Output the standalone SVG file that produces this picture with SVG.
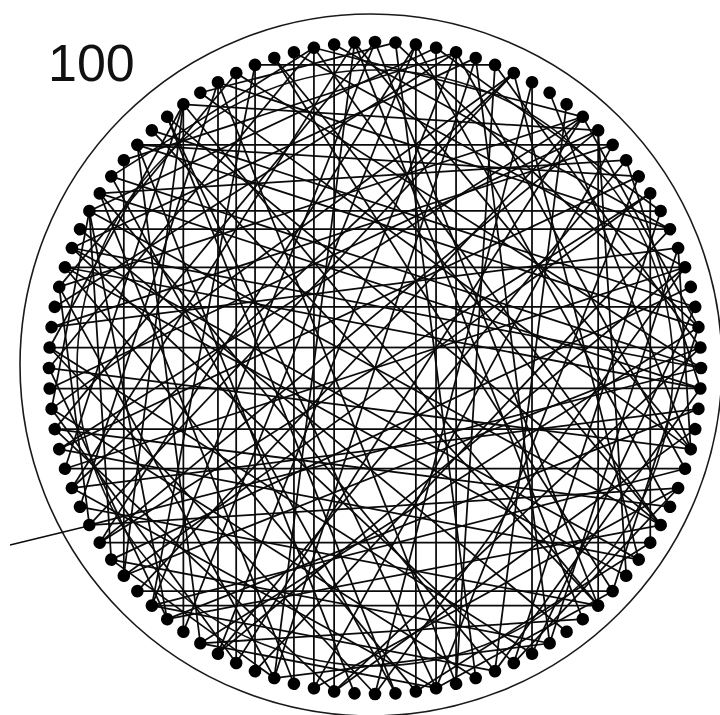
<svg xmlns="http://www.w3.org/2000/svg" xmlns:xlink="http://www.w3.org/1999/xlink" width="720" height="715" viewBox="0 0 720 715">
<style>
.ch{stroke:#0a0a0a;stroke-width:1.75;fill:none}
.ring{fill:none;stroke:#1a1a1a;stroke-width:1.6}
.inner{fill:none;stroke:#111;stroke-width:1.6}
.dot{fill:#000}
.lbl{font-family:"Liberation Sans",Arial,sans-serif;font-size:52px;fill:#111}
</style>
<defs>
<circle id="dot" class="dot" cx="0" cy="-326" r="6.3"/>
<line id="s10" class="ch" x1="0" y1="-326" x2="191.6" y2="-263.7"/>
<line id="s12" class="ch" x1="0" y1="-326" x2="223.1" y2="-237.7"/>
<line id="s14" class="ch" x1="0" y1="-326" x2="251.2" y2="-207.8"/>
<line id="s16" class="ch" x1="0" y1="-326" x2="275.2" y2="-174.7"/>
<line id="s18" class="ch" x1="0" y1="-326" x2="295.0" y2="-138.8"/>
<line id="s20" class="ch" x1="0" y1="-326" x2="310.1" y2="-100.7"/>
<line id="s22" class="ch" x1="0" y1="-326" x2="320.2" y2="-61.1"/>
<line id="s24" class="ch" x1="0" y1="-326" x2="325.4" y2="-20.5"/>
<line id="s26" class="ch" x1="0" y1="-326" x2="325.4" y2="20.5"/>
<line id="s28" class="ch" x1="0" y1="-326" x2="320.2" y2="61.1"/>
<line id="s30" class="ch" x1="0" y1="-326" x2="310.1" y2="100.7"/>
<line id="s32" class="ch" x1="0" y1="-326" x2="295.0" y2="138.8"/>
<line id="s34" class="ch" x1="0" y1="-326" x2="275.2" y2="174.7"/>
<line id="s36" class="ch" x1="0" y1="-326" x2="251.2" y2="207.8"/>
<line id="s38" class="ch" x1="0" y1="-326" x2="223.1" y2="237.7"/>
<line id="s40" class="ch" x1="0" y1="-326" x2="191.6" y2="263.7"/>
<line id="s42" class="ch" x1="0" y1="-326" x2="157.1" y2="285.7"/>
<line id="s44" class="ch" x1="0" y1="-326" x2="120.0" y2="303.1"/>
<line id="s46" class="ch" x1="0" y1="-326" x2="81.1" y2="315.8"/>
<line id="s48" class="ch" x1="0" y1="-326" x2="40.9" y2="323.4"/>
<line id="s50" class="ch" x1="0" y1="-326" x2="0" y2="326"/>
</defs>
<rect width="720" height="715" fill="#fff"/>
<g id="label"><text class="lbl" x="48" y="81">100</text></g>
<g id="housing">
<circle class="ring" cx="371" cy="365" r="351"/>
<circle class="inner" cx="375" cy="368" r="298"/>
</g>
<g id="connectors" transform="translate(375,368)">
<use href="#s38" transform="rotate(0)"/>
<use href="#s22" transform="rotate(3.6)"/>
<use href="#s30" transform="rotate(7.2)"/>
<use href="#s44" transform="rotate(10.8)"/>
<use href="#s26" transform="rotate(14.4)"/>
<use href="#s36" transform="rotate(18)"/>
<use href="#s18" transform="rotate(21.6)"/>
<use href="#s28" transform="rotate(25.2)"/>
<use href="#s42" transform="rotate(28.8)"/>
<use href="#s20" transform="rotate(32.4)"/>
<use href="#s34" transform="rotate(36)"/>
<use href="#s46" transform="rotate(39.6)"/>
<use href="#s24" transform="rotate(43.2)"/>
<use href="#s40" transform="rotate(46.8)"/>
<use href="#s12" transform="rotate(50.4)"/>
<use href="#s32" transform="rotate(54)"/>
<use href="#s48" transform="rotate(57.6)"/>
<use href="#s26" transform="rotate(61.2)"/>
<use href="#s38" transform="rotate(64.8)"/>
<use href="#s22" transform="rotate(68.4)"/>
<use href="#s30" transform="rotate(72)"/>
<use href="#s44" transform="rotate(75.6)"/>
<use href="#s20" transform="rotate(79.2)"/>
<use href="#s36" transform="rotate(82.8)"/>
<use href="#s28" transform="rotate(86.4)"/>
<use href="#s42" transform="rotate(90)"/>
<use href="#s18" transform="rotate(93.6)"/>
<use href="#s34" transform="rotate(97.2)"/>
<use href="#s24" transform="rotate(100.8)"/>
<use href="#s46" transform="rotate(104.4)"/>
<use href="#s32" transform="rotate(108)"/>
<use href="#s22" transform="rotate(111.6)"/>
<use href="#s40" transform="rotate(115.2)"/>
<use href="#s28" transform="rotate(118.8)"/>
<use href="#s14" transform="rotate(122.4)"/>
<use href="#s36" transform="rotate(126)"/>
<use href="#s44" transform="rotate(129.6)"/>
<use href="#s26" transform="rotate(133.2)"/>
<use href="#s30" transform="rotate(136.8)"/>
<use href="#s20" transform="rotate(140.4)"/>
<use href="#s42" transform="rotate(144)"/>
<use href="#s24" transform="rotate(147.6)"/>
<use href="#s34" transform="rotate(151.2)"/>
<use href="#s38" transform="rotate(154.8)"/>
<use href="#s18" transform="rotate(158.4)"/>
<use href="#s28" transform="rotate(162)"/>
<use href="#s46" transform="rotate(165.6)"/>
<use href="#s22" transform="rotate(169.2)"/>
<use href="#s32" transform="rotate(172.8)"/>
<use href="#s40" transform="rotate(176.4)"/>
<use href="#s26" transform="rotate(180)"/>
<use href="#s36" transform="rotate(183.6)"/>
<use href="#s20" transform="rotate(187.2)"/>
<use href="#s44" transform="rotate(190.8)"/>
<use href="#s30" transform="rotate(194.4)"/>
<use href="#s24" transform="rotate(198)"/>
<use href="#s38" transform="rotate(201.6)"/>
<use href="#s16" transform="rotate(205.2)"/>
<use href="#s34" transform="rotate(208.8)"/>
<use href="#s28" transform="rotate(212.4)"/>
<use href="#s42" transform="rotate(216)"/>
<use href="#s22" transform="rotate(219.6)"/>
<use href="#s32" transform="rotate(223.2)"/>
<use href="#s48" transform="rotate(226.8)"/>
<use href="#s26" transform="rotate(230.4)"/>
<use href="#s18" transform="rotate(234)"/>
<use href="#s36" transform="rotate(237.6)"/>
<use href="#s40" transform="rotate(241.2)"/>
<use href="#s24" transform="rotate(244.8)"/>
<use href="#s30" transform="rotate(248.4)"/>
<use href="#s20" transform="rotate(252)"/>
<use href="#s44" transform="rotate(255.6)"/>
<use href="#s28" transform="rotate(259.2)"/>
<use href="#s34" transform="rotate(262.8)"/>
<use href="#s38" transform="rotate(266.4)"/>
<use href="#s22" transform="rotate(270)"/>
<use href="#s14" transform="rotate(273.6)"/>
<use href="#s42" transform="rotate(277.2)"/>
<use href="#s26" transform="rotate(280.8)"/>
<use href="#s32" transform="rotate(284.4)"/>
<use href="#s46" transform="rotate(288)"/>
<use href="#s24" transform="rotate(291.6)"/>
<use href="#s36" transform="rotate(295.2)"/>
<use href="#s20" transform="rotate(298.8)"/>
<use href="#s30" transform="rotate(302.4)"/>
<use href="#s40" transform="rotate(306)"/>
<use href="#s18" transform="rotate(309.6)"/>
<use href="#s28" transform="rotate(313.2)"/>
<use href="#s34" transform="rotate(316.8)"/>
<use href="#s44" transform="rotate(320.4)"/>
<use href="#s22" transform="rotate(324)"/>
<use href="#s38" transform="rotate(327.6)"/>
<use href="#s26" transform="rotate(331.2)"/>
<use href="#s32" transform="rotate(334.8)"/>
<use href="#s12" transform="rotate(338.4)"/>
<use href="#s42" transform="rotate(342)"/>
<use href="#s24" transform="rotate(345.6)"/>
<use href="#s36" transform="rotate(349.2)"/>
<use href="#s20" transform="rotate(352.8)"/>
<use href="#s30" transform="rotate(356.4)"/>
<use href="#s42" transform="rotate(194.4)"/>
<use href="#s36" transform="rotate(205.2)"/>
<use href="#s30" transform="rotate(216)"/>
<use href="#s22" transform="rotate(230.4)"/>
<use href="#s42" transform="rotate(14.4)"/>
<use href="#s34" transform="rotate(28.8)"/>
<use href="#s26" transform="rotate(43.2)"/>
<use href="#s18" transform="rotate(57.6)"/>
<use href="#s46" transform="rotate(187.2)"/>
<use href="#s46" transform="rotate(7.2)"/>
<use href="#s40" transform="rotate(288)"/>
<use href="#s48" transform="rotate(273.6)"/>
<use href="#s44" transform="rotate(280.8)"/>
<use href="#s34" transform="rotate(298.8)"/>
<use href="#s26" transform="rotate(313.2)"/>
<use href="#s40" transform="rotate(108)"/>
<use href="#s44" transform="rotate(100.8)"/>
<use href="#s32" transform="rotate(122.4)"/>
<use href="#s24" transform="rotate(136.8)"/>
<use href="#s48" transform="rotate(93.6)"/>
<use href="#s14" transform="rotate(10.8)"/>
<use href="#s12" transform="rotate(39.6)"/>
<use href="#s10" transform="rotate(68.4)"/>
<use href="#s14" transform="rotate(82.8)"/>
<use href="#s12" transform="rotate(111.6)"/>
<use href="#s10" transform="rotate(133.2)"/>
<use href="#s14" transform="rotate(147.6)"/>
<use href="#s12" transform="rotate(169.2)"/>
<use href="#s10" transform="rotate(198)"/>
<use href="#s14" transform="rotate(219.6)"/>
<use href="#s12" transform="rotate(241.2)"/>
<use href="#s10" transform="rotate(262.8)"/>
<use href="#s14" transform="rotate(284.4)"/>
<use href="#s12" transform="rotate(306)"/>
<use href="#s10" transform="rotate(327.6)"/>
<use href="#s14" transform="rotate(349.2)"/>
<use href="#s50" transform="rotate(18)"/>
<use href="#s50" transform="rotate(118.8)"/>
<use href="#s50" transform="rotate(252)"/>
<use href="#s50" transform="rotate(316.8)"/>
<use href="#s40" transform="rotate(21.6)"/>
<use href="#s44" transform="rotate(50.4)"/>
<use href="#s38" transform="rotate(72)"/>
<use href="#s42" transform="rotate(97.2)"/>
<use href="#s46" transform="rotate(126)"/>
<use href="#s40" transform="rotate(158.4)"/>
<use href="#s36" transform="rotate(176.4)"/>
<use href="#s44" transform="rotate(198)"/>
<use href="#s38" transform="rotate(223.2)"/>
<use href="#s46" transform="rotate(237.6)"/>
<use href="#s40" transform="rotate(255.6)"/>
<use href="#s36" transform="rotate(277.2)"/>
<use href="#s42" transform="rotate(302.4)"/>
<use href="#s48" transform="rotate(324)"/>
<use href="#s38" transform="rotate(342)"/>
<use href="#s44" transform="rotate(3.6)"/>
<use href="#s40" transform="rotate(86.4)"/>
<use href="#s36" transform="rotate(111.6)"/>
<use href="#s42" transform="rotate(169.2)"/>
<use href="#s46" transform="rotate(208.8)"/>
<use href="#s38" transform="rotate(248.4)"/>
<use href="#s44" transform="rotate(291.6)"/>
<use href="#s36" transform="rotate(313.2)"/>
<use href="#s40" transform="rotate(356.4)"/>
<use href="#s50" transform="rotate(57.6)"/>
</g>
<g id="leader"><line class="ch" x1="10" y1="545" x2="84" y2="527" style="stroke-width:1.3"/></g>
<g id="nodes" transform="translate(375,368)">
<g id="n0"><use href="#dot" transform="rotate(0)"/></g>
<g id="n1"><use href="#dot" transform="rotate(3.6)"/></g>
<g id="n2"><use href="#dot" transform="rotate(7.2)"/></g>
<g id="n3"><use href="#dot" transform="rotate(10.8)"/></g>
<g id="n4"><use href="#dot" transform="rotate(14.4)"/></g>
<g id="n5"><use href="#dot" transform="rotate(18)"/></g>
<g id="n6"><use href="#dot" transform="rotate(21.6)"/></g>
<g id="n7"><use href="#dot" transform="rotate(25.2)"/></g>
<g id="n8"><use href="#dot" transform="rotate(28.8)"/></g>
<g id="n9"><use href="#dot" transform="rotate(32.4)"/></g>
<g id="n10"><use href="#dot" transform="rotate(36)"/></g>
<g id="n11"><use href="#dot" transform="rotate(39.6)"/></g>
<g id="n12"><use href="#dot" transform="rotate(43.2)"/></g>
<g id="n13"><use href="#dot" transform="rotate(46.8)"/></g>
<g id="n14"><use href="#dot" transform="rotate(50.4)"/></g>
<g id="n15"><use href="#dot" transform="rotate(54)"/></g>
<g id="n16"><use href="#dot" transform="rotate(57.6)"/></g>
<g id="n17"><use href="#dot" transform="rotate(61.2)"/></g>
<g id="n18"><use href="#dot" transform="rotate(64.8)"/></g>
<g id="n19"><use href="#dot" transform="rotate(68.4)"/></g>
<g id="n20"><use href="#dot" transform="rotate(72)"/></g>
<g id="n21"><use href="#dot" transform="rotate(75.6)"/></g>
<g id="n22"><use href="#dot" transform="rotate(79.2)"/></g>
<g id="n23"><use href="#dot" transform="rotate(82.8)"/></g>
<g id="n24"><use href="#dot" transform="rotate(86.4)"/></g>
<g id="n25"><use href="#dot" transform="rotate(90)"/></g>
<g id="n26"><use href="#dot" transform="rotate(93.6)"/></g>
<g id="n27"><use href="#dot" transform="rotate(97.2)"/></g>
<g id="n28"><use href="#dot" transform="rotate(100.8)"/></g>
<g id="n29"><use href="#dot" transform="rotate(104.4)"/></g>
<g id="n30"><use href="#dot" transform="rotate(108)"/></g>
<g id="n31"><use href="#dot" transform="rotate(111.6)"/></g>
<g id="n32"><use href="#dot" transform="rotate(115.2)"/></g>
<g id="n33"><use href="#dot" transform="rotate(118.8)"/></g>
<g id="n34"><use href="#dot" transform="rotate(122.4)"/></g>
<g id="n35"><use href="#dot" transform="rotate(126)"/></g>
<g id="n36"><use href="#dot" transform="rotate(129.6)"/></g>
<g id="n37"><use href="#dot" transform="rotate(133.2)"/></g>
<g id="n38"><use href="#dot" transform="rotate(136.8)"/></g>
<g id="n39"><use href="#dot" transform="rotate(140.4)"/></g>
<g id="n40"><use href="#dot" transform="rotate(144)"/></g>
<g id="n41"><use href="#dot" transform="rotate(147.6)"/></g>
<g id="n42"><use href="#dot" transform="rotate(151.2)"/></g>
<g id="n43"><use href="#dot" transform="rotate(154.8)"/></g>
<g id="n44"><use href="#dot" transform="rotate(158.4)"/></g>
<g id="n45"><use href="#dot" transform="rotate(162)"/></g>
<g id="n46"><use href="#dot" transform="rotate(165.6)"/></g>
<g id="n47"><use href="#dot" transform="rotate(169.2)"/></g>
<g id="n48"><use href="#dot" transform="rotate(172.8)"/></g>
<g id="n49"><use href="#dot" transform="rotate(176.4)"/></g>
<g id="n50"><use href="#dot" transform="rotate(180)"/></g>
<g id="n51"><use href="#dot" transform="rotate(183.6)"/></g>
<g id="n52"><use href="#dot" transform="rotate(187.2)"/></g>
<g id="n53"><use href="#dot" transform="rotate(190.8)"/></g>
<g id="n54"><use href="#dot" transform="rotate(194.4)"/></g>
<g id="n55"><use href="#dot" transform="rotate(198)"/></g>
<g id="n56"><use href="#dot" transform="rotate(201.6)"/></g>
<g id="n57"><use href="#dot" transform="rotate(205.2)"/></g>
<g id="n58"><use href="#dot" transform="rotate(208.8)"/></g>
<g id="n59"><use href="#dot" transform="rotate(212.4)"/></g>
<g id="n60"><use href="#dot" transform="rotate(216)"/></g>
<g id="n61"><use href="#dot" transform="rotate(219.6)"/></g>
<g id="n62"><use href="#dot" transform="rotate(223.2)"/></g>
<g id="n63"><use href="#dot" transform="rotate(226.8)"/></g>
<g id="n64"><use href="#dot" transform="rotate(230.4)"/></g>
<g id="n65"><use href="#dot" transform="rotate(234)"/></g>
<g id="n66"><use href="#dot" transform="rotate(237.6)"/></g>
<g id="n67"><use href="#dot" transform="rotate(241.2)"/></g>
<g id="n68"><use href="#dot" transform="rotate(244.8)"/></g>
<g id="n69"><use href="#dot" transform="rotate(248.4)"/></g>
<g id="n70"><use href="#dot" transform="rotate(252)"/></g>
<g id="n71"><use href="#dot" transform="rotate(255.6)"/></g>
<g id="n72"><use href="#dot" transform="rotate(259.2)"/></g>
<g id="n73"><use href="#dot" transform="rotate(262.8)"/></g>
<g id="n74"><use href="#dot" transform="rotate(266.4)"/></g>
<g id="n75"><use href="#dot" transform="rotate(270)"/></g>
<g id="n76"><use href="#dot" transform="rotate(273.6)"/></g>
<g id="n77"><use href="#dot" transform="rotate(277.2)"/></g>
<g id="n78"><use href="#dot" transform="rotate(280.8)"/></g>
<g id="n79"><use href="#dot" transform="rotate(284.4)"/></g>
<g id="n80"><use href="#dot" transform="rotate(288)"/></g>
<g id="n81"><use href="#dot" transform="rotate(291.6)"/></g>
<g id="n82"><use href="#dot" transform="rotate(295.2)"/></g>
<g id="n83"><use href="#dot" transform="rotate(298.8)"/></g>
<g id="n84"><use href="#dot" transform="rotate(302.4)"/></g>
<g id="n85"><use href="#dot" transform="rotate(306)"/></g>
<g id="n86"><use href="#dot" transform="rotate(309.6)"/></g>
<g id="n87"><use href="#dot" transform="rotate(313.2)"/></g>
<g id="n88"><use href="#dot" transform="rotate(316.8)"/></g>
<g id="n89"><use href="#dot" transform="rotate(320.4)"/></g>
<g id="n90"><use href="#dot" transform="rotate(324)"/></g>
<g id="n91"><use href="#dot" transform="rotate(327.6)"/></g>
<g id="n92"><use href="#dot" transform="rotate(331.2)"/></g>
<g id="n93"><use href="#dot" transform="rotate(334.8)"/></g>
<g id="n94"><use href="#dot" transform="rotate(338.4)"/></g>
<g id="n95"><use href="#dot" transform="rotate(342)"/></g>
<g id="n96"><use href="#dot" transform="rotate(345.6)"/></g>
<g id="n97"><use href="#dot" transform="rotate(349.2)"/></g>
<g id="n98"><use href="#dot" transform="rotate(352.8)"/></g>
<g id="n99"><use href="#dot" transform="rotate(356.4)"/></g>
</g>
</svg>
